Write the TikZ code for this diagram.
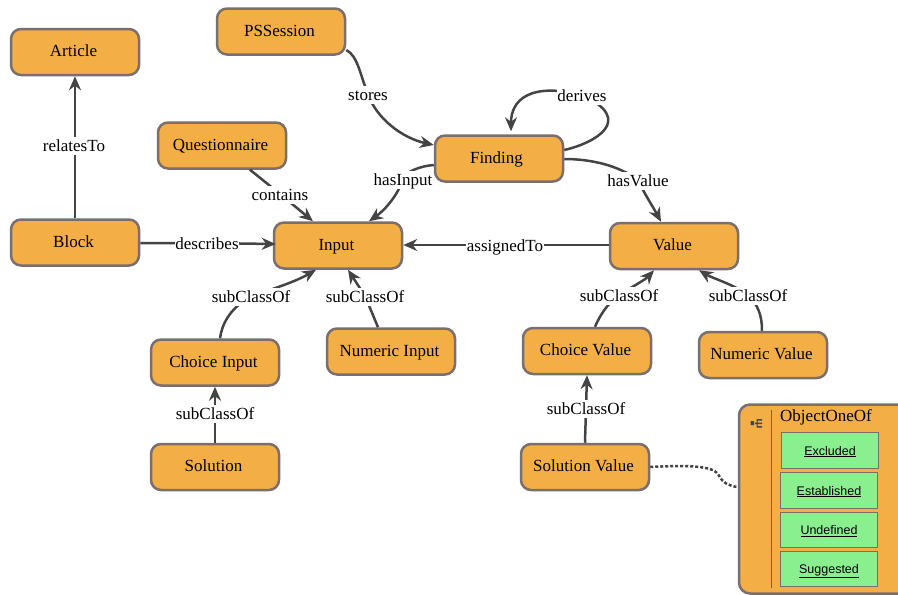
\documentclass[tikz,border=0pt]{standalone}
\usepackage{fontspec}
\setmainfont{Liberation Serif}
\newfontfamily\lsans{Liberation Sans}
\usetikzlibrary{arrows.meta}
\definecolor{boxfill}{HTML}{F3AE45}
\definecolor{boxline}{HTML}{7B6F6E}
\definecolor{edgecol}{HTML}{444444}
\definecolor{greenbox}{HTML}{8AF08F}
\tikzset{
  cls/.style={draw=boxline,line width=2.5pt,fill=boxfill,rounded corners=10pt,minimum width=128pt,minimum height=46pt,inner sep=0pt,font=\fontsize{17}{20}\selectfont,text=black,text height=11pt,text depth=2pt,execute at begin node={\hspace*{-3pt}}},
  edgeline/.style={draw=edgecol,line width=2.5pt},
  arr/.style={edgeline,-{Stealth[length=14pt,width=12pt]}},
  lbl/.style={fill=white,inner xsep=0.5pt,inner ysep=0pt,yshift=-1pt,font=\fontsize{17}{20}\selectfont,text=black,text height=14.5pt,text depth=4pt},
  oneof/.style={draw=boxline,line width=1pt,fill=greenbox,minimum width=97pt,inner sep=0pt,font=\lsans\fontsize{12.5}{15}\selectfont,text height=10pt,text depth=1pt},
}
\begin{document}
\begin{tikzpicture}[x=1pt,y=-1pt]
\useasboundingbox (0,0) rectangle (898,595);
\clip (0,0) rectangle (898,595);
\node[cls] (article) at (75,52) {Article};
\node[cls] (pss) at (281,31.5) {PSSession};
\node[cls] (quest) at (222,145.5) {Questionnaire};
\node[cls] (block) at (75,242.5) {Block};
\node[cls] (input) at (338,245.5) {Input};
\node[cls] (finding) at (499,158.5) {\hspace*{-2pt}Finding};
\node[cls] (value) at (674,246) {Value};
\node[cls] (cinput) at (215,362.5) {Choice Input};
\node[cls] (ninput) at (391,351.5) {Numeric Input};
\node[cls] (cvalue) at (587,351) {Choice Value};
\node[cls] (nvalue) at (763,355) {Numeric Value};
\node[cls] (solution) at (215,467) {Solution};
\node[cls] (svalue) at (585,467) {Solution Value};
% ObjectOneOf container
\node[draw=boxline,line width=2.5pt,fill=boxfill,rounded corners=11pt,minimum width=200pt,minimum height=189pt,inner sep=0pt] (oneofbox) at (839,499) {};
\draw[draw=black!45!boxfill,line width=1pt] (771.5,410) coordinate (divtop) -- (771.5,588) coordinate (divbot);
\fill[edgecol] (750.5,421) rectangle (754,425) (755,422.5) rectangle (757,424) (757,419) rectangle (762,420.5) (757,422.5) rectangle (762,424) (757,426) rectangle (762,427.5) (756.5,419) rectangle (757.5,427.5);
\node[anchor=west,font=\fontsize{17}{20}\selectfont,inner sep=0pt,text=black] (oneoftitle) at (780,417) {ObjectOneOf};
\node[oneof,minimum height=36pt] (excl) at (830,450.5) {\underline{Excluded}};
\node[oneof,minimum height=36pt] (esta) at (829,490.5) {\underline{Established}};
\node[oneof,minimum height=35pt] (unde) at (829,530) {\underline{Undefined}};
\node[oneof,minimum height=35pt] (sugg) at (829,569) {\underline{Suggested}};
% label positions
\coordinate (p1) at (74,145);
\coordinate (p2) at (368,94);
\coordinate (p3) at (582,95);
\coordinate (p4) at (403,179);
\coordinate (p5) at (638,180);
\coordinate (p6) at (505,245);
\coordinate (p7) at (280,194);
\coordinate (p8) at (207,243);
\coordinate (p9) at (251,296);
\coordinate (p10) at (365,296);
\coordinate (p11) at (619,295);
\coordinate (p12) at (748,295);
\coordinate (p13) at (215,413);
\coordinate (p14) at (586,408);
% connectors
\draw[arr] (block.north) -- (article.south);
\draw[arr] (pss.east |- 0,50) .. controls (358,56) and (360,75) .. (p2) .. controls (376,118) and (402,138) .. (finding.west |- 0,145);
\draw[edgeline] (finding.east |- 0,150) .. controls (595,143) and (636,120) .. (p3);
\draw[arr,shorten >=3pt] (p3) .. controls (530,82) and (511,100) .. ([xshift=12pt]finding.north);
\draw[arr] (finding.west |- 0,165) .. controls (420,166) and (405,172) .. (p4) .. controls (398,195) and (385,210) .. ([xshift=31pt]input.north);
\draw[arr] (finding.east |- 0,159) .. controls (590,159) and (618,165) .. (p5) .. controls (645,195) and (652,205) .. ([xshift=-13pt]value.north);
\draw[arr] (value.west |- 0,245) -- (p6) -- (input.east |- 0,245);
\draw[arr] ([xshift=28pt]quest.south) -- (p7) -- ([xshift=-25pt]input.north);
\draw[arr,shorten >=-3pt] (block.east |- 0,243) -- (p8) -- (input.west |- 0,244);
\draw[arr] ([xshift=5pt]cinput.north) .. controls (222,325) and (228,310) .. (p9) .. controls (270,290) and (295,282) .. ([xshift=-22pt]input.south);
\draw[arr] ([xshift=-13pt]ninput.north) -- (p10) -- ([xshift=10pt]input.south);
\draw[arr] ([xshift=8pt]cvalue.north) .. controls (600,315) and (608,303) .. (p11) .. controls (630,288) and (645,280) .. ([xshift=-20pt]value.south);
\draw[arr] ([xshift=-1pt]nvalue.north) .. controls (762,315) and (758,305) .. (p12) .. controls (735,285) and (712,278) .. ([xshift=25pt]value.south);
\draw[arr] (solution.north) -- (p13) -- (cinput.south);
\draw[arr] (svalue.north) -- (p14) -- (cvalue.south);
\draw[edgeline,dash pattern=on 3pt off 2pt] (svalue.east) .. controls (690,465) and (712,466) .. (718,474) .. controls (723,484) and (730,486) .. (oneofbox.west |- 0,487);
% labels
\node[lbl] (l1) at (p1) {relatesTo};
\node[lbl] (l2) at (p2) {stores};
\node[lbl] (l3) at (p3) {derives};
\node[lbl] (l4) at (p4) {hasInput};
\node[lbl] (l5) at (p5) {hasValue};
\node[lbl] (l6) at (p6) {assignedTo};
\node[lbl] (l7) at (p7) {contains};
\node[lbl] (l8) at (p8) {describes};
\node[lbl] (l9) at (p9) {subClassOf};
\node[lbl] (l10) at (p10) {subClassOf};
\node[lbl] (l11) at (p11) {subClassOf};
\node[lbl] (l12) at (p12) {subClassOf};
\node[lbl] (l13) at (p13) {subClassOf};
\node[lbl] (l14) at (p14) {subClassOf};
\end{tikzpicture}
\end{document}
